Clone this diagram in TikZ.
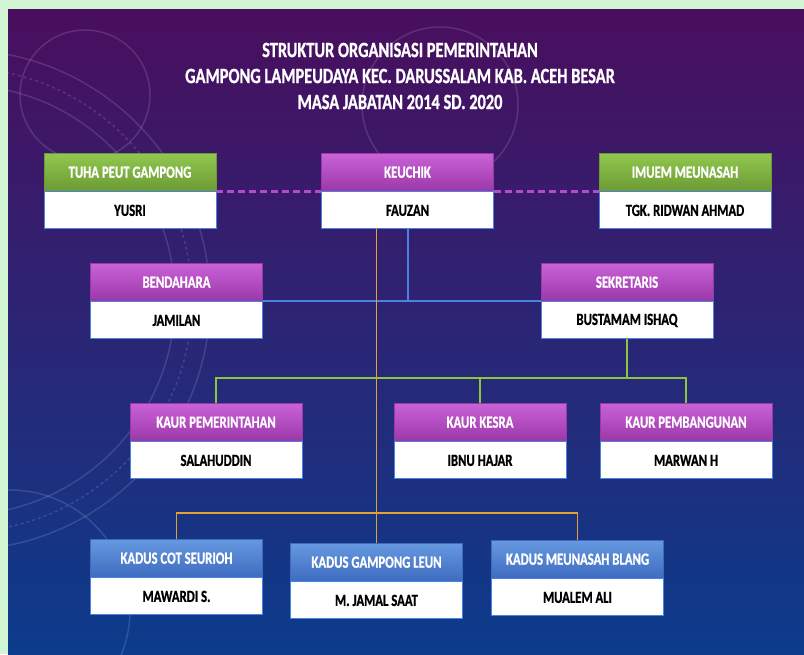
\documentclass[tikz,border=0pt]{standalone}
\usepackage{fontspec}
\newfontfamily\orgfont[FakeStretch=0.75, BoldFeatures={FakeBold=0.8}]{Carlito}
\usetikzlibrary{positioning}
\definecolor{bingkai}{HTML}{D2F5D3}
\definecolor{ungutua}{HTML}{4A0E5E}
\definecolor{ungutengah}{HTML}{2F1C78}
\definecolor{birutua}{HTML}{0C3C8C}
\definecolor{hijauA}{HTML}{92C850}
\definecolor{hijauB}{HTML}{6C9A33}
\definecolor{unguA}{HTML}{CB62D8}
\definecolor{unguB}{HTML}{9A38A8}
\definecolor{biruA}{HTML}{6699E0}
\definecolor{biruB}{HTML}{3E6BC0}
\definecolor{garisbiru}{HTML}{4A82E2}
\definecolor{garisijo}{HTML}{8CC63E}
\definecolor{garisoren}{HTML}{E3A332}
\definecolor{garisungu}{HTML}{B34CCB}
\tikzset{
  kepala/.style={anchor=north, minimum width=172pt, minimum height=38pt, inner sep=0pt,
    text=white, font=\orgfont\bfseries\fontsize{17}{19}\selectfont},
  ijo/.style={kepala, top color=hijauA, bottom color=hijauB, draw=hijauB},
  ungu/.style={kepala, top color=unguA, bottom color=unguB, draw=unguB},
  biru/.style={kepala, top color=biruA, bottom color=biruB, draw=biruB},
  nama/.style={minimum width=172pt, minimum height=37pt, inner sep=0pt, fill=white,
    draw=garisbiru, line width=1pt, text=black, font=\orgfont\bfseries\fontsize{17}{19}\selectfont},
  hias/.style={white, opacity=0.13, line width=1.5pt}
}
\begin{document}
\begin{tikzpicture}[x=1pt,y=-1pt]
% latar
\fill[bingkai] (0,0) rectangle (804,654);
\shade[top color=ungutua, middle color=ungutengah, bottom color=birutua] (8,9) rectangle (804,654);
\begin{scope}
  \clip (8,9) rectangle (804,654);
  \draw[hias] (-40,300) circle (250);
  \draw[hias] (-40,300) circle (215);
  \draw[hias] (85,95) circle (65);
  \draw[hias] (440,105) circle (78);
  \draw[hias] (10,610) circle (120);
  \draw[hias, dashed] (-40,300) circle (232);
\end{scope}
% judul
\node[text=white, font=\orgfont\bfseries\fontsize{21.8}{26}\selectfont, align=center] (judul) at (400,76)
  {STRUKTUR ORGANISASI PEMERINTAHAN\\GAMPONG LAMPEUDAYA KEC. DARUSSALAM KAB. ACEH BESAR\\MASA JABATAN 2014 SD. 2020};
% baris 1
\node[ijo]  (tuha)    at (130,153)   {TUHA PEUT GAMPONG};
\node[nama, below=0pt of tuha]    (tuha-nm)    {YUSRI};
\node[ungu] (keuchik) at (407.5,153) {KEUCHIK};
\node[nama, below=0pt of keuchik] (keuchik-nm) {FAUZAN};
\node[ijo]  (imuem)   at (685,153)   {IMUEM MEUNASAH};
\node[nama, below=0pt of imuem]   (imuem-nm)   {TGK. RIDWAN AHMAD};
% baris 2
\node[ungu] (bendahara)  at (176.5,263) {BENDAHARA};
\node[nama, below=0pt of bendahara]  (bendahara-nm)  {JAMILAN};
\node[ungu] (sekretaris) at (627,263)   {SEKRETARIS};
\node[nama, below=0pt of sekretaris] (sekretaris-nm) {BUSTAMAM ISHAQ};
% baris 3
\node[ungu] (kaur1) at (216,403) {KAUR PEMERINTAHAN};
\node[nama, below=0pt of kaur1] (kaur1-nm) {SALAHUDDIN};
\node[ungu] (kaur2) at (480,403) {KAUR KESRA};
\node[nama, below=0pt of kaur2] (kaur2-nm) {IBNU HAJAR};
\node[ungu] (kaur3) at (686,403) {KAUR PEMBANGUNAN};
\node[nama, below=0pt of kaur3] (kaur3-nm) {MARWAN H};
% baris 4
\node[biru] (kadus1) at (176.5,539) {KADUS COT SEURIOH};
\node[nama, below=0pt of kadus1] (kadus1-nm) {MAWARDI S.};
\node[biru] (kadus2) at (376.5,543) {KADUS GAMPONG LEUN};
\node[nama, below=0pt of kadus2] (kadus2-nm) {M. JAMAL SAAT};
\node[biru] (kadus3) at (577.5,540) {KADUS MEUNASAH BLANG};
\node[nama, below=0pt of kadus3] (kadus3-nm) {MUALEM ALI};
% garis
\coordinate (gbar) at (0,378);
\coordinate (obar) at (0,513);
\draw[garisungu, line width=3pt, dash pattern=on 7pt off 4pt] (tuha.south east) -- (keuchik.south west);
\draw[garisungu, line width=3pt, dash pattern=on 7pt off 4pt] (keuchik.south east) -- (imuem.south west);
\draw[garisbiru, line width=2pt] (keuchik-nm.south) -- (keuchik-nm.south |- sekretaris.south);
\draw[garisbiru, line width=2pt] (bendahara.south east) -- (sekretaris.south west);
\draw[garisijo, line width=2pt] (sekretaris-nm.south) -- (sekretaris-nm.south |- gbar);
\draw[garisijo, line width=2pt] (kaur1.north) |- (gbar -| kaur3.north) -- (kaur3.north);
\draw[garisijo, line width=2pt] (kaur2.north) -- (kaur2.north |- gbar);
\draw[garisoren, line width=1.6pt] (keuchik-nm.south -| kadus2.north) -- (kadus2.north);
\draw[garisoren, line width=1.6pt] (kadus1.north) |- (obar -| kadus3.north) -- (kadus3.north);
\end{tikzpicture}
\end{document}
